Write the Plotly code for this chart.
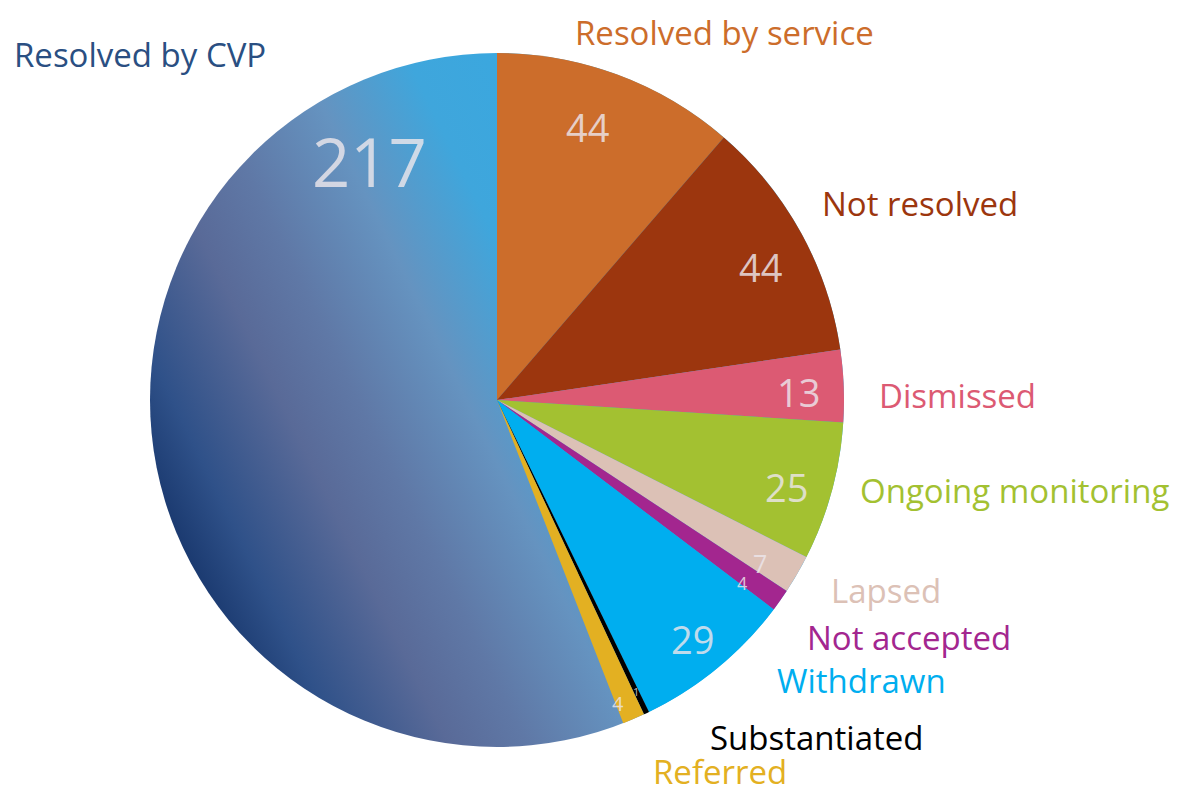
import math
import base64
import plotly.graph_objects as go

categories = ["Resolved by service", "Not resolved", "Dismissed", "Ongoing monitoring",
              "Lapsed", "Not accepted", "Withdrawn", "Substantiated", "Referred", "Resolved by CVP"]
values = [44, 44, 13, 25, 7, 4, 29, 1, 4, 217]
colors = ["#cc6d2b", "#9c360e", "#dc5a73", "#a3c131", "#dcc1b6", "#a3268f",
          "#00aeef", "#000000", "#e3b022", "#5f86b0"]

W, H = 1192, 793
CX, CY, R = 497, 400, 347  # pie centre/radius in pixels

dom_x = [(CX - R) / W, (CX + R) / W]
dom_y = [1 - (CY + R) / H, 1 - (CY - R) / H]

# "Resolved by CVP" slice is filled with a gradient drawn underneath (slice itself transparent)
slice_colors = colors[:-1] + ["rgba(0,0,0,0)"]

fig = go.Figure(go.Pie(
    labels=categories, values=values, sort=False, direction="clockwise", rotation=0,
    marker=dict(colors=slice_colors, line=dict(width=0)),
    textinfo="none", hoverinfo="label+value", showlegend=False,
    domain=dict(x=dom_x, y=dom_y),
))

grad_svg = """<svg xmlns='http://www.w3.org/2000/svg' width='694' height='694' viewBox='0 0 694 694'>
<defs><linearGradient id='g' x1='0.05' y1='0.72' x2='0.95' y2='0.28'>
<stop offset='0' stop-color='#1b3a70'/>
<stop offset='0.08' stop-color='#2f5189'/>
<stop offset='0.22' stop-color='#596a98'/>
<stop offset='0.32' stop-color='#5f78a6'/>
<stop offset='0.46' stop-color='#6593c0'/>
<stop offset='0.6' stop-color='#3fa6dc'/>
<stop offset='1' stop-color='#30aae4'/>
</linearGradient></defs>
<circle cx='347' cy='347' r='347' fill='url(#g)'/></svg>"""
fig.add_layout_image(
    source="data:image/svg+xml;base64," + base64.b64encode(grad_svg.encode()).decode(),
    xref="paper", yref="paper", x=dom_x[0], y=dom_y[1],
    sizex=dom_x[1] - dom_x[0], sizey=dom_y[1] - dom_y[0],
    xanchor="left", yanchor="top", sizing="stretch", layer="below",
)

FONT = "Open Sans, Noto Sans, sans-serif"

# inside value labels: position within slice (angular fraction, radial fraction)
val_frac = [0.45, 0.55, 0.56, 0.56, 0.75, 0.9, 0.51, 0.5, 0.9, 0.86]
val_r = [0.83, 0.85, 0.87, 0.87, 0.89, 0.88, 0.89, 0.93, 0.94, 0.78]
val_size = [38, 38, 38, 38, 25, 18, 38, 11, 20, 67]
total = sum(values)
cum = 0
for v, af, rf, fs in zip(values, val_frac, val_r, val_size):
    ang = (cum + v * af) / total * 2 * math.pi
    cum += v
    px = CX + R * rf * math.sin(ang)
    py = CY - R * rf * math.cos(ang)
    fig.add_annotation(x=px / W, y=1 - py / H, xref="paper", yref="paper",
                       text=str(v), showarrow=False, xanchor="center", yanchor="middle",
                       font=dict(family=FONT, size=fs, color="rgba(236,230,236,0.82)"))

# outside category labels
label_pos = {
    "Resolved by CVP": (12, 55),
    "Resolved by service": (573, 32),
    "Not resolved": (820, 203),
    "Dismissed": (877, 395),
    "Ongoing monitoring": (858, 490),
    "Lapsed": (829, 590),
    "Not accepted": (805, 637),
    "Withdrawn": (775, 680),
    "Substantiated": (708, 737),
    "Referred": (651, 771),
}
label_colors = dict(zip(categories, colors))
label_colors["Resolved by CVP"] = "#2a4f82"
for name, (lx, ly) in label_pos.items():
    fig.add_annotation(x=lx / W, y=1 - ly / H, xref="paper", yref="paper",
                       text=name, showarrow=False, xanchor="left", yanchor="middle",
                       font=dict(family=FONT, size=33, color=label_colors[name]))

fig.update_layout(width=W, height=H, margin=dict(l=0, r=0, t=0, b=0),
                  paper_bgcolor="white", plot_bgcolor="white")
fig.write_html("out.html", config={"displayModeBar": False},
               post_script="document.body.style.margin='0px';document.body.style.overflow='hidden';")
